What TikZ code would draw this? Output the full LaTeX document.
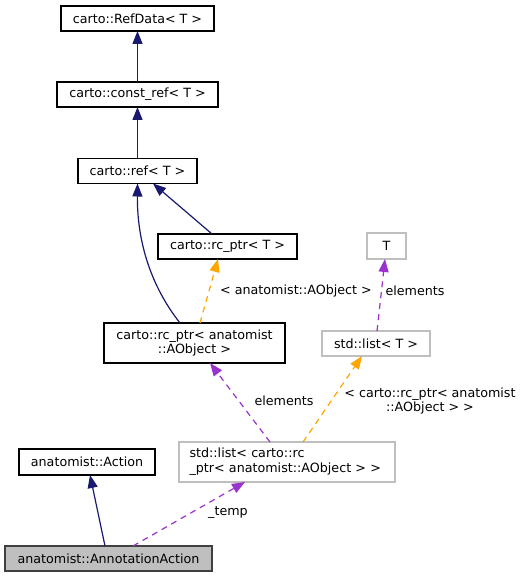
\documentclass[tikz,border=0pt]{standalone}
\usepackage{fontspec}
\setmainfont{DejaVu Sans}
\usetikzlibrary{arrows.meta,calc}
\definecolor{edgeblue}{HTML}{191970}
\definecolor{edgepurple}{HTML}{9A32CD}
\definecolor{edgeorange}{HTML}{FFA500}
\definecolor{boxgrey}{HTML}{BFBFBF}
\definecolor{curgrey}{HTML}{BFBFBF}
\tikzset{
  x=1pt,y=-1pt,
  every node/.style={font=\fontsize{12.7}{14.7}\selectfont, inner sep=0pt, outer sep=0pt},
  cls/.style={draw=black, line width=1.1pt, minimum height=25pt, align=center},
  ext/.style={draw=boxgrey, line width=1.1pt, minimum height=25pt, align=center},
  cur/.style={draw=black!75, fill=curgrey, line width=1.1pt, minimum height=25pt},
  tip/.style={-{Triangle[length=13pt,width=10pt]}},
  inh/.style={tip, draw=edgeblue, line width=1.2pt},
  usep/.style={tip, draw=edgepurple, line width=1.2pt, dash pattern=on 6pt off 5pt},
  tmpl/.style={tip, draw=edgeorange, line width=1.2pt, dash pattern=on 6pt off 5pt},
  lbl/.style={align=center}
}
\begin{document}
\begin{tikzpicture}
\useasboundingbox (0,0) rectangle (527,577);
\node[cls, minimum width=153pt] (refdata) at (137.5,18.5) {carto::RefData\textless{} T \textgreater{}};
\node[cls, minimum width=161pt] (constref) at (137.5,94.5) {carto::const\_ref\textless{} T \textgreater{}};
\node[cls, minimum width=119pt] (ref) at (137.5,171) {carto::ref\textless{} T \textgreater{}};
\node[cls, minimum width=139pt] (rcptrT) at (227.5,246.5) {carto::rc\_ptr\textless{} T \textgreater{}};
\node[ext, minimum width=39pt, minimum height=26pt] (T) at (386.5,246) {T};
\node[ext, minimum width=108pt] (listT) at (376,343.5) {std::list\textless{} T \textgreater{}};
\node[cls, minimum width=181pt, minimum height=40pt] (rcptrA) at (194.5,343) {carto::rc\_ptr\textless{} anatomist\\::AObject \textgreater{}};
\node[ext, minimum width=216pt, minimum height=40pt, align=left, text width=195pt] (listRc) at (287,462) {std::list\textless{} carto::rc\\\_ptr\textless{} anatomist::AObject \textgreater{} \textgreater{}};
\node[cls, minimum width=136pt, minimum height=26pt] (action) at (87,462) {anatomist::Action};
\node[cur, minimum width=207pt] (annot) at (108.5,558.5) {anatomist::AnnotationAction};

\draw[inh] (constref.north) -- (refdata.south);
\draw[inh] (ref.north) -- (constref.south);
\draw[inh] ([xshift=-14.5pt]rcptrA.north) .. controls (150,285) and (137,240) .. (ref.south);
\draw[inh] ([xshift=-15.5pt]rcptrT.north) -- ([xshift=15.5pt]ref.south);
\draw[tmpl] ([xshift=5.5pt]rcptrA.north) -- ([xshift=-9.5pt]rcptrT.south);
\draw[usep] ([xshift=1pt]listT.north) -- ([xshift=-1.5pt]T.south);
\draw[usep] ([xshift=-17pt]listRc.north) -- ([xshift=15.5pt]rcptrA.south);
\draw[tmpl] ([xshift=16pt]listRc.north) -- ([xshift=-14pt]listT.south);
\draw[inh] ([xshift=-3.5pt]annot.north) -- ([xshift=3pt]action.south);
\draw[usep] ([xshift=24.5pt]annot.north) -- ([xshift=-42pt]listRc.south);

\node[lbl] (l1) at (296,291) {\textless{} anatomist::AObject \textgreater{}};
\node[lbl] (l2) at (415,291) {elements};
\node[lbl] (l3) at (284,401) {elements};
\node[lbl] (l4) at (430,401) {\textless{} carto::rc\_ptr\textless{} anatomist\\::AObject \textgreater{} \textgreater{}};
\node[lbl] (l5) at (228,513) {\_temp};
\end{tikzpicture}
\end{document}
